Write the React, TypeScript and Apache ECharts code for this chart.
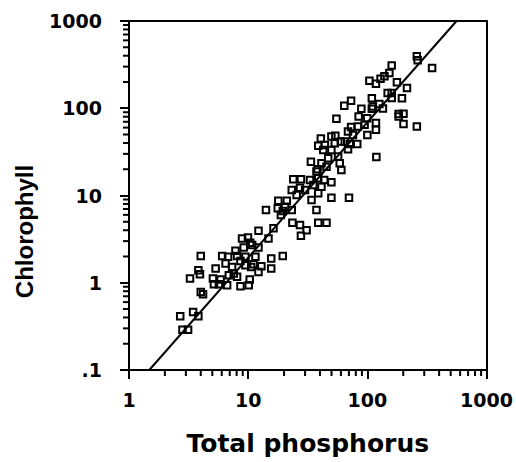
import React, { useEffect, useRef } from "react";
import * as echarts from "echarts";

const tpValues = [
  260, 264, 349, 160, 153, 139, 129, 104, 118, 177, 215, 160, 160, 195, 109, 73, 64, 89, 109, 135,
  126, 55, 84.5, 99.6, 118, 118, 100, 183, 201, 183, 201, 260, 73, 68.8, 83.4, 40.7, 49.9, 38.7, 42.6, 53.3,
  59.8, 71.1, 82.2, 68.8, 119, 33.6, 46.9, 56.8, 58.6, 60.5, 38.2, 41.2, 23.9, 27.7, 33, 38.7, 43.4, 49.9, 23.2, 27.2,
  34, 38.7, 41.2, 49.9, 70.1, 17.9, 21.1, 17.7, 23.2, 19.5, 14.1, 18.8, 37.4, 23.5, 27.2, 30.9, 27.7, 38.7, 45.4, 16.3,
  14.8, 12.2, 8.88, 9.96, 10.4, 9.17, 12.2, 7.82, 4.0, 6.05, 6.78, 8.07, 9.48, 19.5, 15.6, 5.33, 6.46, 7.33, 9.48, 11.1,
  12.9, 15.6, 12.2, 3.82, 3.94, 3.25, 5.06, 5.87, 6.88, 8.07, 8.61, 10.3, 10.1, 5.16, 6.66, 5.68, 4.0, 4.18, 3.45, 2.69,
  3.82, 2.81, 3.13, 30, 35.2, 45.4, 49.9, 75.7, 94.8, 64.6, 44, 7.57, 10.6, 11.5, 8.61, 10.8, 20.4, 25.5, 37.4, 53.9,
  111, 148,
];

const chlValues = [
  394, 354, 290, 308, 254, 232, 218, 207, 191, 198, 171, 150, 131, 130, 130, 122, 107, 99, 99, 99.5,
  112, 76, 80.5, 77, 67.6, 56.6, 49.5, 85.8, 86.5, 80.5, 65.8, 61.8, 60.8, 54.1, 61.8, 45, 47.4, 37.1, 33.3, 39.8,
  41.5, 38.8, 38.8, 34, 27.7, 24.3, 26.8, 27.9, 23.4, 19.6, 20, 23.4, 15.4, 15.4, 15.1, 15.8, 15.1, 14.2, 11.6, 12.3,
  8.87, 10.6, 12.6, 9.44, 9.44, 8.71, 8.71, 7.12, 6.81, 6.63, 6.81, 5.97, 6.81, 4.87, 4.58, 4.01, 3.45, 4.87, 4.87, 4.2,
  3.22, 3.94, 3.22, 3.31, 2.87, 2.54, 2.54, 2.32, 2.02, 2.02, 1.98, 2.02, 1.98, 2.02, 1.9, 1.46, 1.66, 1.52, 1.59, 1.63,
  1.55, 1.46, 1.33, 1.39, 1.25, 1.12, 1.12, 1.09, 1.22, 1.17, 0.912, 1.09, 0.935, 0.962, 0.935, 0.96, 0.784, 0.738, 0.461, 0.412,
  0.412, 0.29, 0.29, 11.6, 13.2, 21.4, 33.3, 49.5, 64.6, 41.5, 38, 1.28, 1.52, 1.98, 1.78, 2.7, 7.43, 10.1, 18.8, 48.3,
  105, 150,
];

const fitLineX = [1.48, 560];
const fitLineY = [0.1, 1000];

const xMinorTicks = [2, 3, 4, 5, 6, 7, 8, 9, 20, 30, 40, 50, 60, 70, 80, 90, 200, 300, 400, 500, 600, 700, 800, 900];
const yMinorTicks = [
  0.2, 0.3, 0.4, 0.5, 0.6, 0.7, 0.8, 0.9, 2, 3, 4, 5, 6, 7, 8, 9, 20, 30, 40, 50, 60, 70, 80, 90,
  200, 300, 400, 500, 600, 700, 800, 900,
];

const xTitle = "Total phosphorus";
const yTitle = "Chlorophyll";

export default function App() {
  const ref = useRef<HTMLDivElement>(null);

  useEffect(() => {
    if (!ref.current) return;
    const chart = echarts.init(ref.current, undefined, { renderer: "svg" });

    const scatterData = tpValues.map((v, i) => [v, chlValues[i]]);
    const xMinorData = xMinorTicks.map((v) => [v, 0.1]);
    const yMinorData = yMinorTicks.map((v) => [1, v]);

    const labelStyle = {
      color: "#000",
      fontFamily: "DejaVu Sans",
      fontWeight: "bold" as const,
      fontSize: 19,
    };
    const frameAxis = {
      show: true,
      axisLine: { show: true, lineStyle: { color: "#000", width: 2 } },
      axisTick: { show: false },
      axisLabel: { show: false },
      splitLine: { show: false },
    };

    chart.setOption({
      animation: false,
      grid: { left: 129, right: 27, top: 21, bottom: 92 },
      xAxis: [
        {
          type: "log",
          logBase: 10,
          min: 1,
          max: 1000,
          position: "bottom",
          name: xTitle,
          nameLocation: "middle",
          nameGap: 61,
          nameTextStyle: { color: "#000", fontFamily: "DejaVu Sans", fontWeight: "bold", fontSize: 25 },
          axisLine: { show: true, lineStyle: { color: "#000", width: 2 } },
          axisTick: { show: true, length: 9, lineStyle: { color: "#000", width: 2 } },
          splitLine: { show: false },
          axisLabel: { ...labelStyle, margin: 20, formatter: (v: number) => String(Math.round(v)) },
        },
        { type: "log", logBase: 10, min: 1, max: 1000, position: "top", ...frameAxis },
      ],
      yAxis: [
        {
          type: "log",
          logBase: 10,
          min: 0.1,
          max: 1000,
          position: "left",
          name: yTitle,
          nameLocation: "middle",
          nameGap: 93,
          nameTextStyle: {
            color: "#000",
            fontFamily: "Liberation Sans",
            fontWeight: "bold",
            fontSize: 24,
            padding: [0, 72, 0, 0],
          },
          axisLine: { show: true, lineStyle: { color: "#000", width: 2 } },
          axisTick: { show: true, length: 9, lineStyle: { color: "#000", width: 2 } },
          splitLine: { show: false },
          axisLabel: {
            ...labelStyle,
            margin: 27,
            formatter: (v: number) => (Math.abs(v - 0.1) < 1e-9 ? ".1" : String(Math.round(v))),
          },
        },
        { type: "log", logBase: 10, min: 0.1, max: 1000, position: "right", ...frameAxis },
      ],
      series: [
        {
          type: "scatter",
          data: scatterData,
          symbol: "rect",
          symbolSize: 6.5,
          itemStyle: { color: "rgba(255,255,255,0)", borderColor: "#000", borderWidth: 2, opacity: 1 },
          markLine: {
            silent: true,
            symbol: ["none", "none"],
            label: { show: false },
            lineStyle: { color: "#000", width: 2, type: "solid" },
            data: [
              [
                { coord: [fitLineX[0], fitLineY[0]] },
                { coord: [fitLineX[1], fitLineY[1]] },
              ],
            ],
          },
        },
        {
          type: "scatter",
          data: xMinorData,
          symbol: "rect",
          symbolSize: [2, 5],
          symbolOffset: [0, 3.5],
          clip: false,
          itemStyle: { color: "#000", opacity: 1 },
        },
        {
          type: "scatter",
          data: yMinorData,
          symbol: "rect",
          symbolSize: [5, 2],
          symbolOffset: [-3.5, 0],
          clip: false,
          itemStyle: { color: "#000", opacity: 1 },
        },
      ],
    });

    return () => chart.dispose();
  }, []);

  return (
    <div
      ref={ref}
      style={{ position: "fixed", left: 0, top: 0, width: 516, height: 462, background: "#fff" }}
    />
  );
}
